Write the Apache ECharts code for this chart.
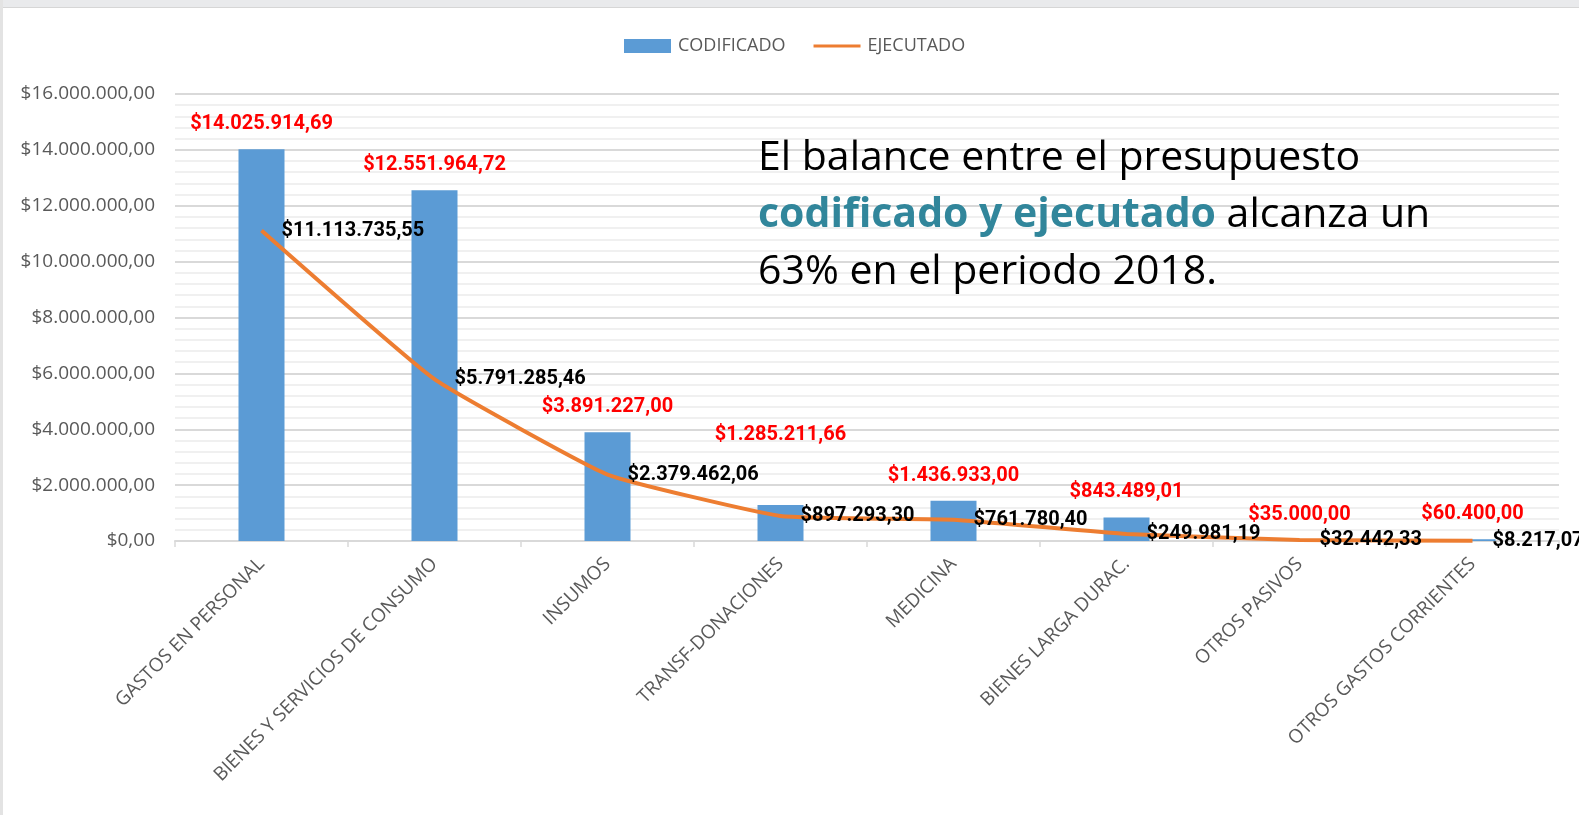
<!DOCTYPE html>
<html>
<head>
<meta charset="utf-8">
<script src="https://cdn.jsdelivr.net/npm/echarts@6/dist/echarts.min.js"></script>
<style>
html,body{margin:0;padding:0;background:#fff;}
#chart{width:1579px;height:815px;}
</style>
</head>
<body>
<div id="chart"></div>
<script>
const categories = ['GASTOS EN PERSONAL','BIENES Y SERVICIOS DE CONSUMO','INSUMOS','TRANSF-DONACIONES','MEDICINA','BIENES LARGA DURAC.','OTROS PASIVOS','OTROS GASTOS CORRIENTES'];
const codificado = [14025914.69, 12551964.72, 3891227.00, 1285211.66, 1436933.00, 843489.01, 35000.00, 60400.00];
const ejecutado = [11113735.55, 5791285.46, 2379462.06, 897293.30, 761780.40, 249981.19, 32442.33, 8217.07];
const yTicks = {min: 0, max: 16000000, interval: 2000000};

function fmt(v){
  const parts = v.toFixed(2).split('.');
  const intPart = parts[0].replace(/\B(?=(\d{3})+(?!\d))/g, '.');
  return '$' + intPart + ',' + parts[1];
}

const labelFont = 'Roboto, sans-serif';
const axisFont = '"Open Sans", sans-serif';

const barData = codificado.map((v, i) => {
  const d = {value: v};
  if (i === 3) d.label = {offset: [0, -45]};
  return d;
});

const chart = echarts.init(document.getElementById('chart'), null, {renderer: 'canvas'});
chart.setOption({
  animation: false,
  backgroundColor: '#ffffff',
  grid: {left: 175, right: 20, top: 94, bottom: 274, containLabel: false},
  legend: {
    top: 37, left: 624, padding: 0,
    itemWidth: 47, itemHeight: 14, itemGap: 28,
    textStyle: {color: '#595959', fontSize: 18, fontFamily: axisFont, padding: [0, 0, 0, 2]},
    data: [
      {name: 'CODIFICADO', icon: 'rect'},
      {name: 'EJECUTADO', icon: 'path://M0,0 L48,0 L48,3 L0,3 Z', itemStyle: {color: '#ED7D31'}}
    ]
  },
  xAxis: {
    type: 'category',
    data: categories,
    axisLine: {lineStyle: {color: '#d9d9d9', width: 2}},
    axisTick: {show: true, length: 6, lineStyle: {color: '#d9d9d9', width: 1.5}},
    axisLabel: {rotate: 45, interval: 0, margin: 20, color: '#595959', fontSize: 19, fontFamily: axisFont}
  },
  yAxis: {
    type: 'value',
    min: yTicks.min, max: yTicks.max, interval: yTicks.interval,
    axisLine: {show: false},
    axisTick: {show: false},
    axisLabel: {color: '#595959', fontSize: 19, fontFamily: axisFont, margin: 20, formatter: v => fmt(v)},
    splitLine: {lineStyle: {color: '#d9d9d9', width: 2}},
    minorTick: {show: false, splitNumber: 5},
    minorSplitLine: {show: true, lineStyle: {color: '#f0f0f0', width: 2}}
  },
  series: [
    {
      name: 'CODIFICADO',
      type: 'bar',
      data: barData,
      barWidth: 46,
      itemStyle: {color: '#5B9BD5'},
      label: {
        show: true, position: 'top', distance: 15,
        color: '#ff0000', fontSize: 20, fontWeight: 'bold', fontFamily: labelFont,
        formatter: p => fmt(p.value)
      },
      z: 2
    },
    {
      name: 'EJECUTADO',
      type: 'line',
      data: ejecutado,
      smooth: 0.12,
      symbol: 'circle',
      symbolSize: 0.1,
      showSymbol: true,
      lineStyle: {color: '#ED7D31', width: 4},
      itemStyle: {color: '#ED7D31'},
      label: {
        show: true, position: 'right', distance: 20,
        color: '#000000', fontSize: 20, fontWeight: 'bold', fontFamily: labelFont,
        formatter: p => fmt(p.value)
      },
      z: 3
    }
  ],
  graphic: [
    {type: 'rect', left: 0, top: 0, shape: {width: 1579, height: 7}, style: {fill: '#e9eaec'}, z: 10},
    {type: 'rect', left: 0, top: 7, shape: {width: 1579, height: 1}, style: {fill: '#d6d6d6'}, z: 10},
    {type: 'rect', left: 0, top: 0, shape: {width: 3, height: 815}, style: {fill: '#e3e3e3'}, z: 10},
    {
      type: 'text', left: 758, top: 138, z: 20,
      style: {
        text: '{n|El balance entre el presupuesto}\n{b|codificado y ejecutado}{n| alcanza un}\n{n|63% en el periodo 2018.}',
        rich: {
          n: {fontSize: 41, fontFamily: axisFont, fill: '#000000', lineHeight: 57},
          b: {fontSize: 41, fontFamily: axisFont, fontWeight: 'bold', fill: '#31869B', lineHeight: 57}
        }
      }
    }
  ]
});
</script>
</body>
</html>
